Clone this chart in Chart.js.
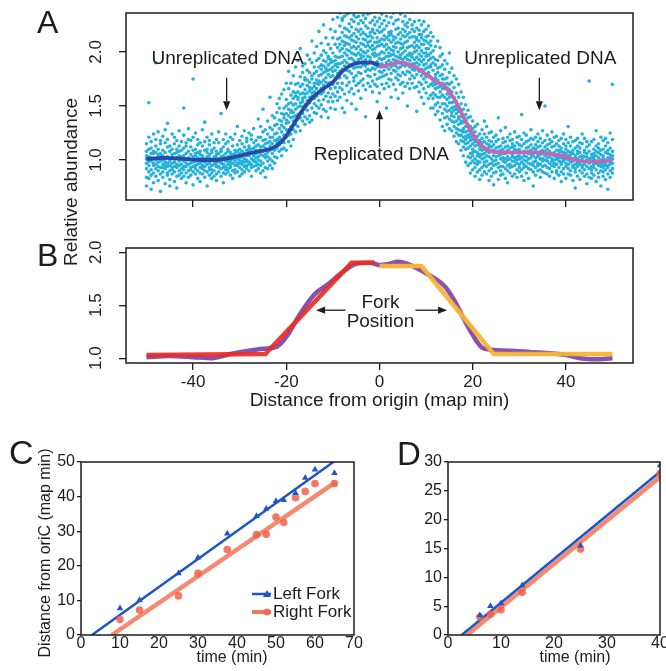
<!DOCTYPE html>
<html lang="en">
<head>
<meta charset="utf-8">
<title>Replication fork progression</title>
<script src="https://cdn.jsdelivr.net/npm/chart.js@4.4.1/dist/chart.umd.min.js"></script>
<style>
  html, body { margin: 0; padding: 0; background: #fff; }
  #page { position: relative; width: 666px; height: 671px; overflow: hidden;
          font-family: "Liberation Sans", Arial, Helvetica, sans-serif; color: #1c1c1c; }
  #page canvas { position: absolute; }
  .panel { position: absolute; line-height: 1; }
  #ylabAB { position: absolute; left: 71px; top: 182px; font-size: 19px; white-space: nowrap;
            transform: translate(-50%, -50%) rotate(-90deg); }
</style>
</head>
<body>
<div id="page">
  <canvas id="chartA" width="666" height="222" style="left:0;top:0"></canvas>
  <canvas id="chartB" width="666" height="185" style="left:0;top:230px"></canvas>
  <canvas id="chartC" width="370" height="231" style="left:0;top:440px"></canvas>
  <canvas id="chartD" width="296" height="231" style="left:370px;top:440px"></canvas>
  <div class="panel" style="left:37px;top:6px;font-size:32px">A</div>
  <div class="panel" style="left:37px;top:239px;font-size:32px">B</div>
  <div class="panel" style="left:9px;top:435px;font-size:34px">C</div>
  <div class="panel" style="left:397px;top:437px;font-size:33px">D</div>
  <div id="ylabAB">Relative abundance</div>
</div>
<script>
// ---- data ----

// panels A and B share the x axis (distance from origin, map min)
const distanceTicks = [-40, -20, 0, 20, 40];
const abundanceTicks = [1.0, 1.5, 2.0];

// panel A scatter: "x: y values (x100)" per column
const scatterColumns = [
  "-50: 97 108 84 101 115 92 76 104",
  "-49.5: 103 89 121 95 99 110 83 153",
  "-49: 91 106 99 117 86 102 73 111",
  "-48.5: 108 95 88 124 101 79 97 106",
  "-48: 100 113 92 85 107 96 119 190",
  "-47.5: 94 102 110 81 98 126 90 105",
  "-47: 106 87 99 115 93 71 103 118",
  "-46.5: 89 104 96 109 122 84 100 93",
  "-46: 101 92 116 98 78 107 128 95",
  "-45.5: 112 97 86 103 94 119 88 134",
  "-45: 95 108 101 82 113 90 99 76",
  "-44.5: 103 91 124 97 87 110 105 93",
  "-44: 98 115 89 106 80 101 121 94",
  "-43.5: 107 93 102 85 118 96 74 110",
  "-43: 90 104 113 99 127 86 95 108",
  "-42.5: 101 88 96 117 92 109 83 103",
  "-42: 111 99 85 104 94 123 91 148",
  "-41.5: 94 106 100 79 113 97 88 116",
  "-41: 102 90 119 96 108 84 101 129",
  "-40.5: 97 112 91 105 86 100 118 93",
  "-40: 89 103 98 121 94 77 109 175",
  "-39.5: 106 95 87 110 99 125 92 104",
  "-39: 99 114 90 102 83 107 96 119",
  "-38.5: 93 101 108 88 116 97 80 105",
  "-38: 104 92 99 113 87 128 95 102",
  "-37.5: 98 109 84 101 94 117 90 135",
  "-37: 110 96 103 89 121 99 76 107",
  "-36.5: 91 105 97 114 86 102 93 118",
  "-36: 100 88 107 95 124 91 109 83",
  "-35.5: 96 103 90 111 99 85 116 102",
  "-35: 102 94 108 87 97 119 81 105",
  "-34.5: 89 106 99 116 93 101 126 94",
  "-34: 97 110 85 103 92 108 98 143",
  "-33.5: 104 93 101 119 88 96 112 79",
  "-33: 99 115 91 106 94 102 87 124",
  "-32.5: 108 96 103 89 117 99 92 110",
  "-32: 93 104 98 121 86 107 100 95",
  "-31.5: 101 113 90 105 97 83 119 103",
  "-31: 106 95 109 99 124 91 102 88",
  "-30.5: 97 108 101 114 89 104 95 131",
  "-30: 110 99 93 106 118 85 102 97",
  "-29.5: 103 115 96 108 91 122 99 87",
  "-29: 98 106 112 94 101 127 89 105",
  "-28.5: 109 100 95 117 104 92 120 99",
  "-28: 104 113 98 90 108 125 96 111",
  "-27.5: 96 107 119 101 93 110 85 123",
  "-27: 111 99 104 116 94 107 129 100",
  "-26.5: 102 118 95 109 98 113 90 106",
  "-26: 107 100 114 96 121 103 92 138",
  "-25.5: 99 112 121 88 105 131 95 109",
  "-25: 113 97 104 126 90 118 108 147",
  "-24.5: 102 119 93 111 128 105 84 115",
  "-24: 110 124 99 116 107 136 92 103",
  "-23.5: 121 101 113 95 130 109 117 158",
  "-23: 106 128 115 99 121 141 110 92",
  "-22.5: 118 103 132 112 124 97 139 109",
  "-22: 125 111 144 119 102 133 116 152",
  "-21.5: 114 137 121 148 108 129 157 118",
  "-21: 132 119 143 110 126 161 136 104",
  "-20.5: 123 148 116 139 130 165 111 142",
  "-20: 143 128 109 156 134 121 171 137 150",
  "-19.5: 128 152 141 117 166 135 147 123 182",
  "-19: 139 124 160 146 113 153 171 131 144",
  "-18.5: 151 136 128 163 144 178 119 157 140",
  "-18: 133 159 147 170 126 152 141 186 162",
  "-17.5: 156 142 171 131 163 149 192 138 158",
  "-17: 144 168 153 127 177 161 139 150 203",
  "-16.5: 162 149 181 157 136 170 154 143 187",
  "-16: 151 174 140 165 158 189 133 161 176",
  "-15.5: 169 155 146 183 162 174 138 197 153",
  "-15: 158 181 164 141 172 153 193 167 135",
  "-14.5: 175 148 166 190 159 137 178 162 210",
  "-14: 163 186 171 152 199 144 168 180 157",
  "-13.5: 182 159 174 166 143 192 171 205 150",
  "-13: 170 194 155 178 162 186 148 173 219",
  "-12.5: 188 166 179 151 197 172 161 184 140 208",
  "-12: 174 192 163 181 156 201 169 187 147 225",
  "-11.5: 185 168 199 176 159 191 145 182 213 172",
  "-11: 179 196 162 188 171 207 154 183 194 139",
  "-10.5: 193 172 184 158 203 177 190 166 221 148",
  "-10: 182 199 170 191 161 213 178 186 154 230",
  "-9.5: 196 175 188 207 167 183 219 159 192 147",
  "-9: 186 204 171 195 180 163 212 189 232 155",
  "-8.5: 201 176 224 189 158 213 195 182 236 167 207",
  "-8: 184 210 196 229 171 203 148 218 190 165 231",
  "-7.5: 215 192 178 206 233 161 199 187 222 144 209",
  "-7: 197 221 183 208 169 235 190 214 176 202 155",
  "-6.5: 188 213 226 172 201 194 163 219 207 182 236",
  "-6: 223 199 180 211 166 194 230 187 215 152 204",
  "-5.5: 192 217 205 176 228 185 210 161 198 234 173",
  "-5: 209 186 221 197 169 232 203 178 214 190 147",
  "-4.5: 181 205 226 193 212 164 199 219 186 233 171",
  "-4: 216 194 173 208 229 186 202 157 221 197 180",
  "-3.5: 200 227 188 212 175 196 234 169 207 191 218",
  "-3: 187 211 199 224 165 205 182 216 193 231 140",
  "-2.5: 222 196 209 178 214 189 201 235 171 206 184",
  "-2: 195 218 183 204 227 168 210 192 215 177 236",
  "-1.5: 206 185 221 198 173 213 190 229 163 202 219",
  "-1: 184 209 196 225 179 203 217 188 232 170 199",
  "-0.5: 213 191 205 168 220 197 186 228 209 175 154",
  "0: 198 223 187 210 176 231 194 206 182 218 162",
  "0.5: 189 207 219 181 200 226 170 212 193 235 177",
  "1: 215 194 178 205 229 187 211 166 199 221 183",
  "1.5: 202 186 224 196 171 213 190 233 207 179 148",
  "2: 184 211 199 218 175 204 227 192 168 215 196",
  "2.5: 219 197 180 209 190 232 174 202 216 186 158",
  "3: 193 214 205 183 226 198 170 211 188 236 201",
  "3.5: 208 187 221 196 176 213 192 229 165 204 182",
  "4: 185 216 200 191 230 174 209 222 195 179 157",
  "4.5: 212 194 178 218 203 186 235 197 170 208 190",
  "5: 199 221 188 207 172 215 193 228 181 204 162",
  "5.5: 187 209 225 195 179 214 201 168 219 190 233",
  "6: 216 193 204 182 227 197 171 210 188 223 150",
  "6.5: 197 181 213 205 230 186 199 175 218 192 166",
  "7: 206 225 189 198 171 214 184 221 195 178 237",
  "7.5: 183 204 193 219 176 209 228 189 167 200 214",
  "8: 211 190 206 179 222 195 168 213 186 201 145",
  "8.5: 193 216 182 204 188 229 172 198 210 163 220",
  "9: 201 178 213 191 170 207 225 184 196 158 216",
  "9.5: 188 207 175 199 219 183 166 211 193 228 152",
  "10: 196 172 210 185 162 203 189 221 177 199 214",
  "10.5: 181 203 192 168 215 179 197 157 208 186 224",
  "11: 194 170 186 206 160 199 177 218 188 148 210",
  "11.5: 183 162 201 175 190 148 169 214 157 195 172",
  "12: 166 188 151 179 205 170 142 193 176 160",
  "12.5: 192 158 174 145 181 167 210 153 185 171",
  "13: 149 178 163 196 171 137 158 186 168 204",
  "13.5: 171 152 188 143 166 179 131 160 198 175",
  "14: 158 184 139 170 152 192 147 166 127 175",
  "14.5: 140 167 176 150 133 161 189 145 171 156",
  "15: 165 146 158 181 129 153 170 138 199 161",
  "15.5: 136 159 144 172 153 127 163 148 185 141",
  "16: 154 131 149 167 140 122 158 178 135 146",
  "16.5: 129 150 143 117 162 136 154 125 175 147",
  "17: 145 123 138 158 115 133 149 170 128 140",
  "17.5: 118 140 127 152 134 109 146 123 163 136",
  "18: 135 112 129 147 121 104 140 158 117 126",
  "18.5: 110 131 119 142 126 98 137 115 151 122",
  "19: 127 103 121 139 111 132 95 146 116 123",
  "19.5: 106 124 113 97 131 118 140 102 121 88",
  "20: 119 99 110 129 104 136 91 115 122 107",
  "20.5: 101 117 93 126 108 131 97 113 85 120",
  "21: 114 96 122 104 89 117 107 133 99",
  "21.5: 98 113 105 124 91 110 82 118 103",
  "22: 109 93 120 101 116 86 128 105 112",
  "22.5: 102 117 95 110 124 89 106 136 98",
  "23: 115 99 108 87 121 104 131 94 110",
  "23.5: 96 112 103 125 90 118 107 81 114",
  "24: 108 92 117 101 85 112 97 126",
  "24.5: 99 114 104 88 121 95 109 77",
  "25: 111 96 103 123 89 107 117 100",
  "25.5: 93 108 119 97 112 82 104 139",
  "26: 105 90 113 101 127 94 109 86",
  "26.5: 116 102 94 110 87 120 99 106",
  "27: 98 112 106 83 117 101 92 130",
  "27.5: 109 95 121 103 90 113 100 79",
  "28: 101 118 93 107 124 96 111 88",
  "28.5: 94 105 112 99 85 119 103 115",
  "29: 113 99 87 108 102 126 95 110",
  "29.5: 103 91 116 97 109 84 121 100",
  "30: 96 110 104 122 89 101 114 93",
  "30.5: 107 98 85 113 102 119 91 142",
  "31: 100 115 108 93 125 96 104 81",
  "31.5: 111 94 103 117 88 107 99 123",
  "32: 92 106 118 101 97 112 83 108",
  "32.5: 105 120 96 109 91 114 102 128",
  "33: 98 89 111 104 119 95 107 76",
  "33.5: 114 102 93 108 86 121 99 110",
  "34: 103 117 97 112 90 105 124 95",
  "34.5: 91 108 101 120 96 113 84 105",
  "35: 109 99 116 94 106 127 101 89",
  "35.5: 100 112 88 104 118 95 108 150",
  "36: 106 93 110 99 123 87 102 114",
  "36.5: 97 115 103 92 108 119 85 104",
  "37: 112 101 95 117 89 106 99 126",
  "37.5: 94 107 121 100 113 83 104 97",
  "38: 103 90 109 115 96 101 122 88",
  "38.5: 99 113 93 106 86 118 102 109",
  "39: 108 96 102 89 120 98 111 80",
  "39.5: 92 104 115 99 107 87 124 101",
  "40: 101 110 94 106 83 113 97 119",
  "40.5: 96 87 108 100 116 92 104 131",
  "41: 105 98 113 90 102 121 86 107",
  "41.5: 93 109 100 117 95 81 106 99",
  "42: 102 89 96 111 104 118 92 74",
  "42.5: 97 106 85 101 113 94 108 120",
  "43: 90 103 111 96 82 107 99 116",
  "43.5: 104 93 99 115 88 101 124 95",
  "44: 98 109 91 103 120 85 96 107",
  "44.5: 87 100 112 94 106 78 103 117",
  "45: 101 92 97 108 84 114 99 173",
  "45.5: 94 105 88 99 117 91 102 83",
  "46: 103 96 110 86 101 119 93 106",
  "46.5: 91 99 104 113 80 97 108 127",
  "47: 98 88 107 95 115 102 84 111",
  "47.5: 105 94 100 121 90 97 76 109",
  "48: 89 102 96 110 85 104 118 93",
  "48.5: 100 91 107 98 113 82 95 120",
  "49: 95 106 87 102 116 93 109 73",
  "49.5: 102 90 98 111 84 105 96 125",
  "50: 97 108 92 101 119 88 104 170"
];

// panel A smoothed curves (left / right of origin)
const smoothLeftX = [-50, -46, -42, -38, -35, -32, -29, -26, -23, -21, -19, -17, -14.5, -12, -10, -8, -6, -4, -2, 0];
const smoothLeftY = [1.01, 1.02, 1.01, 1.0, 1.0, 1.02, 1.05, 1.08, 1.11, 1.17, 1.29, 1.43, 1.57, 1.66, 1.72, 1.82, 1.88, 1.9, 1.9, 1.88];
const smoothRightX = [0, 2, 4, 6, 8, 10, 12, 14, 16, 18, 20, 22, 24, 27, 32, 36, 39, 42, 45, 48, 50];
const smoothRightY = [1.86, 1.88, 1.9, 1.89, 1.85, 1.79, 1.73, 1.68, 1.57, 1.4, 1.24, 1.13, 1.08, 1.07, 1.07, 1.06, 1.04, 1.0, 0.985, 0.99, 1.0];

// panel B: measured profile and the two fork models
const profileX = [-50, -45, -40, -36, -32, -28, -25, -22, -20, -17, -14, -11, -8, -5, -2, 0, 2, 4, 6, 8, 10, 12, 14, 16, 18, 20, 22, 24, 28, 32, 36, 40, 43, 46, 50];
const profileY = [1.01, 1.02, 1.01, 1.0, 1.04, 1.07, 1.09, 1.11, 1.2, 1.42, 1.6, 1.7, 1.81, 1.89, 1.9, 1.88, 1.89, 1.91, 1.89, 1.85, 1.8, 1.75, 1.68, 1.55, 1.38, 1.22, 1.1, 1.08, 1.07, 1.06, 1.05, 1.03, 1.0, 0.99, 1.0];
const leftModelX = [-50, -24.5, -6, -1];
const leftModelY = [1.03, 1.04, 1.9, 1.9];
const rightModelX = [0, 9, 24.5, 50];
const rightModelY = [1.87, 1.87, 1.04, 1.04];

// panel C: fork position vs time
const timeC = [10, 15, 25, 30, 37.5, 45, 47.5, 50, 52, 55, 57.5, 60, 65];
const leftForkC = [7.7, 10.1, 17.8, 22.4, 29.3, 34.4, 36.5, 38.7, 39, 41, 45.4, 47.8, 46.8];
const rightForkC = [4.5, 7.2, 11.3, 17.8, 24.7, 29.0, 29.1, 34.1, 32.5, 39.7, 41.5, 43.8, 43.8];
const leftFitCX = [2.8, 64.7];
const leftFitCY = [0, 50];
const rightFitCX = [7.9, 65.3];
const rightFitCY = [0, 44.2];
const timeTicksC = [0, 10, 20, 30, 40, 50, 60, 70];
const distTicksC = [0, 10, 20, 30, 40, 50];

// panel D
const timeD = [6, 8, 10, 14, 25, 40];
const leftForkD = [3.4, 5.0, 5.5, 8.6, 15.5, 29.4];
const rightForkD = [3.1, 3.6, 4.4, 7.4, 14.9, 28.0];
const leftFitDX = [2.6, 40];
const leftFitDY = [0, 28.3];
const rightFitDX = [3.6, 40];
const rightFitDY = [0, 27.4];
const timeTicksD = [0, 10, 20, 30, 40];
const distTicksD = [0, 5, 10, 15, 20, 25, 30];

// ---- helpers ----
const SANS = '"Liberation Sans", Arial, Helvetica, sans-serif';
const INK = '#1c1c1c';
Chart.defaults.font.family = SANS;
Chart.defaults.color = INK;

function pairs(xs, ys) {
  return xs.map((x, i) => ({ x: x, y: ys[i] }));
}

const scatterPoints = [];
scatterColumns.forEach(col => {
  const parts = col.split(':');
  const x = parseFloat(parts[0]);
  parts[1].trim().split(/\s+/).forEach(v => scatterPoints.push({ x: x, y: Number(v) / 100 }));
});

function tickList(values) {
  return scale => { scale.ticks = values.map(v => ({ value: v })); };
}
function fixSize(prop, px) {
  return scale => {
    scale[prop] = px;
    scale.paddingLeft = scale.paddingRight = scale.paddingTop = scale.paddingBottom = 0;
  };
}
function tickMarks(len) {
  return { display: true, drawOnChartArea: false, drawTicks: true, tickLength: len,
           color: INK, tickColor: INK, lineWidth: 1.3, tickWidth: 1.3 };
}

function arrow(ctx, x0, y0, x1, y1) {
  const a = Math.atan2(y1 - y0, x1 - x0), head = 9, half = 3.6;
  const bx = x1 - Math.cos(a) * head, by = y1 - Math.sin(a) * head;
  ctx.beginPath();
  ctx.moveTo(x0, y0);
  ctx.lineTo(bx, by);
  ctx.stroke();
  ctx.beginPath();
  ctx.moveTo(x1, y1);
  ctx.lineTo(bx + Math.sin(a) * half, by - Math.cos(a) * half);
  ctx.lineTo(bx - Math.sin(a) * half, by + Math.cos(a) * half);
  ctx.closePath();
  ctx.fill();
}

// box round the plot area
const frame = {
  id: 'frame',
  afterDraw(chart) {
    const { ctx, chartArea: a } = chart;
    ctx.save();
    ctx.strokeStyle = INK;
    ctx.lineWidth = 1.5;
    ctx.strokeRect(a.left, a.top, a.right - a.left, a.bottom - a.top);
    ctx.restore();
  }
};

// y tick labels written sideways (A and B)
const sideTicks = {
  id: 'sideTicks',
  afterDraw(chart, args, opts) {
    if (!opts || opts.x === undefined) return;
    const { ctx } = chart;
    const s = chart.scales.y;
    ctx.save();
    ctx.font = '17px ' + SANS;
    ctx.fillStyle = INK;
    ctx.textAlign = 'center';
    ctx.textBaseline = 'middle';
    s.ticks.forEach(t => {
      ctx.save();
      ctx.translate(opts.x, s.getPixelForValue(t.value));
      ctx.rotate(-Math.PI / 2);
      ctx.fillText(t.value.toFixed(1), 0, 0);
      ctx.restore();
    });
    ctx.restore();
  }
};

// text and arrows placed in data units
const notes = {
  id: 'notes',
  afterDatasetsDraw(chart, args, opts) {
    if (!opts) return;
    const { ctx } = chart;
    const sx = chart.scales.x, sy = chart.scales.y;
    ctx.save();
    ctx.fillStyle = INK;
    ctx.strokeStyle = INK;
    ctx.font = '19px ' + SANS;
    ctx.textAlign = 'center';
    ctx.textBaseline = 'middle';
    (opts.texts || []).forEach(t => ctx.fillText(t.text, sx.getPixelForValue(t.x), sy.getPixelForValue(t.y)));
    ctx.lineWidth = 1.3;
    (opts.arrows || []).forEach(a => arrow(ctx,
      sx.getPixelForValue(a.from[0]), sy.getPixelForValue(a.from[1]),
      sx.getPixelForValue(a.to[0]), sy.getPixelForValue(a.to[1])));
    ctx.restore();
  }
};

// axis captions placed in canvas pixels
const captions = {
  id: 'captions',
  afterDraw(chart, args, opts) {
    if (!opts || !opts.items) return;
    const { ctx } = chart;
    ctx.save();
    ctx.fillStyle = INK;
    ctx.font = '16px ' + SANS;
    ctx.textAlign = 'center';
    ctx.textBaseline = 'middle';
    opts.items.forEach(c => {
      ctx.save();
      ctx.translate(c.x, c.y);
      if (c.rotate) ctx.rotate(c.rotate);
      ctx.fillText(c.text, 0, 0);
      ctx.restore();
    });
    ctx.restore();
  }
};

// legend inside panel C
const forkKey = {
  id: 'forkKey',
  afterDraw(chart, args, opts) {
    if (!opts || !opts.items) return;
    const { ctx } = chart;
    ctx.save();
    ctx.font = '17px ' + SANS;
    ctx.textBaseline = 'middle';
    ctx.textAlign = 'left';
    opts.items.forEach((it, i) => {
      const y = opts.y + i * opts.gap;
      ctx.strokeStyle = it.color;
      ctx.lineWidth = it.width;
      ctx.beginPath();
      ctx.moveTo(opts.x, y);
      ctx.lineTo(opts.x + 19, y);
      ctx.stroke();
      ctx.fillStyle = it.color;
      ctx.beginPath();
      if (it.marker === 'triangle') {
        ctx.moveTo(opts.x + 15, y - 4);
        ctx.lineTo(opts.x + 19, y + 3);
        ctx.lineTo(opts.x + 11, y + 3);
        ctx.closePath();
      } else {
        ctx.arc(opts.x + 15, y, 3.6, 0, Math.PI * 2);
      }
      ctx.fill();
      ctx.fillStyle = INK;
      ctx.fillText(it.label, opts.x + 21, y);
    });
    ctx.restore();
  }
};

const base = { responsive: false, animation: false, events: [] };
const quiet = { legend: { display: false }, tooltip: { enabled: false } };

// ---- panel A ----
new Chart(document.getElementById('chartA'), {
  type: 'scatter',
  data: {
    datasets: [
      { data: pairs(smoothLeftX, smoothLeftY), showLine: true, borderColor: '#2a48a5', borderWidth: 3.8,
        pointRadius: 0, cubicInterpolationMode: 'monotone', order: 1 },
      { data: pairs(smoothRightX, smoothRightY), showLine: true, borderColor: '#c466b6', borderWidth: 3.8,
        pointRadius: 0, cubicInterpolationMode: 'monotone', order: 1 },
      { data: scatterPoints, pointRadius: 1.8, backgroundColor: '#22b2dc', pointBackgroundColor: '#22b2dc',
        pointBorderWidth: 0, order: 2, clip: 0 }
    ]
  },
  options: Object.assign({}, base, {
    layout: { padding: { top: 13, right: 33, bottom: 0, left: 0 } },
    scales: {
      x: { type: 'linear', min: -54.4, max: 54.4, afterBuildTicks: tickList(distanceTicks),
           afterFit: fixSize('height', 22), ticks: { display: false }, grid: tickMarks(7), border: { display: false } },
      y: { type: 'linear', min: 0.63, max: 2.36, afterBuildTicks: tickList(abundanceTicks),
           afterFit: fixSize('width', 126), ticks: { display: false }, grid: tickMarks(7), border: { display: false } }
    },
    plugins: Object.assign({}, quiet, {
      sideTicks: { x: 96 },
      notes: {
        texts: [
          { text: 'Unreplicated DNA', x: -32.6, y: 1.935 },
          { text: 'Unreplicated DNA', x: 34.5, y: 1.935 },
          { text: 'Replicated DNA', x: 0.4, y: 1.046 }
        ],
        arrows: [
          { from: [-32.8, 1.76], to: [-32.8, 1.46] },
          { from: [34.3, 1.76], to: [34.3, 1.46] },
          { from: [0, 1.12], to: [0, 1.46] }
        ]
      }
    })
  }),
  plugins: [frame, sideTicks, notes]
});

// ---- panel B ----
new Chart(document.getElementById('chartB'), {
  type: 'scatter',
  data: {
    datasets: [
      { data: pairs(leftModelX, leftModelY), showLine: true, borderColor: 'rgba(236,42,36,0.92)', borderWidth: 4.5,
        pointRadius: 0, order: 1 },
      { data: pairs(rightModelX, rightModelY), showLine: true, borderColor: 'rgba(249,178,51,0.95)', borderWidth: 4.5,
        pointRadius: 0, order: 1 },
      { data: pairs(profileX, profileY), showLine: true, borderColor: 'rgba(125,63,166,0.9)', borderWidth: 4.5,
        pointRadius: 0, cubicInterpolationMode: 'monotone', order: 2 }
    ]
  },
  options: Object.assign({}, base, {
    layout: { padding: { top: 18, right: 33, bottom: 0, left: 0 } },
    scales: {
      x: { type: 'linear', min: -54.4, max: 54.4, afterBuildTicks: tickList(distanceTicks),
           afterFit: fixSize('height', 52),
           ticks: { font: { size: 17 }, padding: 2, color: INK, maxRotation: 0, autoSkip: false },
           grid: tickMarks(7), border: { display: false },
           title: { display: true, text: 'Distance from origin (map min)', font: { size: 19 }, color: INK,
                    padding: { top: 0, bottom: 3 } } },
      y: { type: 'linear', min: 0.955, max: 2.04, afterBuildTicks: tickList(abundanceTicks),
           afterFit: fixSize('width', 126), ticks: { display: false }, grid: tickMarks(7), border: { display: false } }
    },
    plugins: Object.assign({}, quiet, {
      sideTicks: { x: 96 },
      notes: {
        texts: [
          { text: 'Fork', x: 0.2, y: 1.528 },
          { text: 'Position', x: 0.2, y: 1.34 }
        ],
        arrows: [
          { from: [-7.3, 1.453], to: [-13.6, 1.453] },
          { from: [7.7, 1.453], to: [14.5, 1.453] }
        ]
      }
    })
  }),
  plugins: [frame, sideTicks, notes]
});

// ---- panels C and D ----
function forkChart(id, o) {
  return new Chart(document.getElementById(id), {
    type: 'scatter',
    data: {
      datasets: [
        { data: pairs(o.leftX, o.leftY), pointStyle: 'triangle', pointRadius: 3.8,
          backgroundColor: '#1f55c4', pointBorderWidth: 0, order: 1 },
        { data: pairs(o.time, o.right), pointRadius: 3.8, backgroundColor: 'rgba(240,98,72,0.85)',
          pointBorderWidth: 0, order: 2 },
        { data: pairs(o.fitLX, o.fitLY), showLine: true, borderColor: '#1f55c4', borderWidth: 2.5,
          pointRadius: 0, order: 3 },
        { data: pairs(o.fitRX, o.fitRY), showLine: true, borderColor: 'rgba(244,116,88,0.85)', borderWidth: 4.5,
          pointRadius: 0, order: 4 }
      ]
    },
    options: Object.assign({}, base, {
      layout: { padding: { top: 22, right: o.right_pad, bottom: 0, left: 0 } },
      scales: {
        x: { type: 'linear', min: o.xmin, max: o.xmax, afterBuildTicks: tickList(o.xticks),
             afterFit: fixSize('height', 36),
             ticks: { font: { size: 16, lineHeight: 1 }, padding: 1, color: INK, maxRotation: 0, autoSkip: false },
             grid: { display: true, drawOnChartArea: false, drawTicks: false }, border: { display: false } },
        y: { type: 'linear', min: o.ymin, max: o.ymax, afterBuildTicks: tickList(o.yticks),
             afterFit: fixSize('width', o.yw),
             ticks: { font: { size: 16 }, padding: 2, color: INK, autoSkip: false },
             grid: tickMarks(4), border: { display: false } }
      },
      plugins: Object.assign({}, quiet, { captions: { items: o.captions }, forkKey: o.key || {} })
    }),
    plugins: [frame, captions, forkKey]
  });
}

forkChart('chartC', {
  time: timeC, leftX: timeC, leftY: leftForkC, right: rightForkC,
  fitLX: leftFitCX, fitLY: leftFitCY, fitRX: rightFitCX, fitRY: rightFitCY,
  xmin: 0, xmax: 70, ymin: 0, ymax: 50, xticks: timeTicksC, yticks: distTicksC,
  yw: 81, right_pad: 16,
  captions: [
    { text: 'time (min)', x: 232, y: 218 },
    { text: 'Distance from oriC (map min)', x: 46, y: 113, rotate: -Math.PI / 2 }
  ],
  key: {
    x: 252, y: 154, gap: 18,
    items: [
      { label: 'Left Fork', color: '#1f55c4', width: 2.5, marker: 'triangle' },
      { label: 'Right Fork', color: 'rgba(242,104,78,0.9)', width: 4, marker: 'circle' }
    ]
  }
});

forkChart('chartD', {
  time: timeD, leftX: timeD, leftY: leftForkD, right: rightForkD,
  fitLX: leftFitDX, fitLY: leftFitDY, fitRX: rightFitDX, fitRY: rightFitDY,
  xmin: 0, xmax: 40, ymin: 0, ymax: 30, xticks: timeTicksD, yticks: distTicksD,
  yw: 78, right_pad: 6,
  captions: [
    { text: 'time (min)', x: 205, y: 218 }
  ]
});
</script>
</body>
</html>
